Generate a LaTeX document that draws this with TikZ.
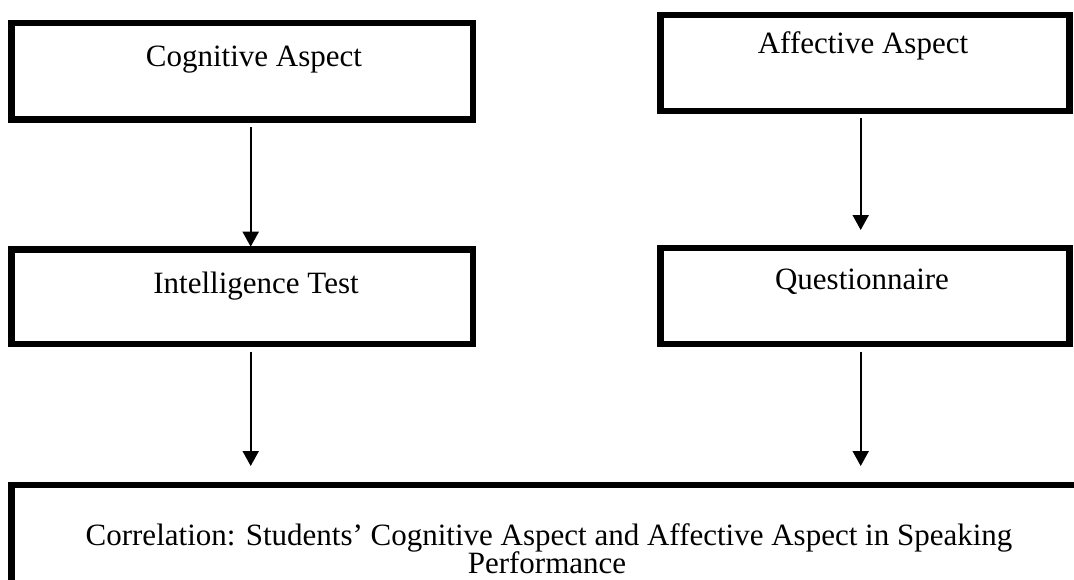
\documentclass[tikz,border=0pt]{standalone}
\usepackage{fontspec}
\setmainfont{Liberation Serif}
\usetikzlibrary{arrows.meta}
\begin{document}
\begin{tikzpicture}[x=1pt,y=-1pt,
  box/.style={draw,line width=6.7pt,inner sep=0pt},
  lbl/.style={inner sep=0pt,anchor=base,font=\fontsize{31}{36}\selectfont},
  arr/.style={line width=2pt,-{Triangle[width=16pt,length=15pt]}}]
\useasboundingbox (0,0) rectangle (1074,579);
\clip (0,0) rectangle (1074,579);
\fill[white] (0,0) rectangle (1074,579);
\node[box,minimum width=461.3pt,minimum height=96.5pt] (cog) at (242.35,71.25) {};
\node[box,minimum width=409pt,minimum height=96pt] (aff) at (865,63) {};
\node[box,minimum width=461.3pt,minimum height=94.5pt] (int) at (242.35,296.75) {};
\node[box,minimum width=409pt,minimum height=96pt] (que) at (865,296) {};
\node[box,minimum width=1090pt,minimum height=140pt] (cor) at (556.7,555) {};
\node[lbl] (tcog) at (254,66) {Cognitive Aspect};
\node[lbl] (taff) at (863,53) {Affective Aspect};
\node[lbl] (tint) at (256,293) {Intelligence Test};
\node[lbl] (tque) at (862,289) {Questionnaire};
\node[lbl] (tcor1) at (549,545) {Correlation: Students’ Cognitive Aspect and Affective Aspect in Speaking};
\node[lbl] (tcor2) at (547,573.5) {Performance};
\coordinate (a1s) at (250.7,127);
\coordinate (a1e) at (250.7,246.7);
\coordinate (a2s) at (860.7,118);
\coordinate (a2e) at (860.7,230);
\coordinate (a3s) at (250.7,351.7);
\coordinate (a3e) at (250.7,466);
\coordinate (a4s) at (860.7,351.7);
\coordinate (a4e) at (860.7,466);
\draw[arr] (a1s) -- (a1e);
\draw[arr] (a2s) -- (a2e);
\draw[arr] (a3s) -- (a3e);
\draw[arr] (a4s) -- (a4e);
\end{tikzpicture}
\end{document}
